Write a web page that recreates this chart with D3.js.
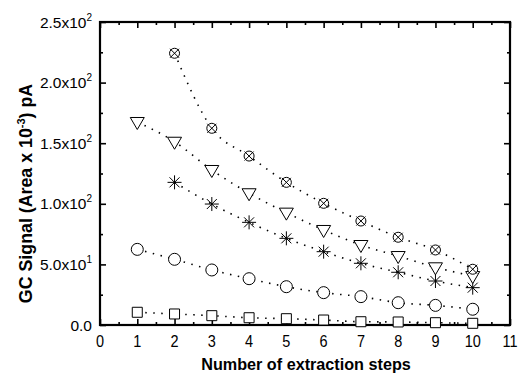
<!DOCTYPE html>
<html>
<head>
<meta charset="utf-8">
<script src="https://cdn.jsdelivr.net/npm/d3@7"></script>
<style>
body{margin:0;background:#fff;}
text{font-family:"Liberation Sans",Arial,sans-serif;}
</style>
</head>
<body>
<div id="chart"></div>
<script>
// values
const stepsAll = [1,2,3,4,5,6,7,8,9,10];
const stepsFrom2 = [2,3,4,5,6,7,8,9,10];
const squareVals = [10.5,9.1,7.7,6.0,5.2,4.1,2.7,2.5,1.9,1.4];
const circleVals = [62.4,54.2,45.4,38.2,31.6,26.7,23.4,18.4,16.2,13.0];
const starVals = [117.7,99.8,84.7,71.5,60.5,50.9,43.5,36.3,30.8];
const triangleVals = [167.5,151.2,127.9,108.7,92.7,78.4,66.0,56.9,47.6,40.4];
const crossedVals = [224.2,162.3,139.4,117.7,100.4,85.8,72.4,61.9,46.0];
const xTicks = [0,1,2,3,4,5,6,7,8,9,10,11];
const yTicks = [0,50,100,150,200,250];
const yTickBase = ['0.0','5.0x10','1.0x10','1.5x10','2.0x10','2.5x10'];
const yTickExp = ['','1','2','2','2','2'];

const series = [
	{shape:'square', x:stepsAll, y:squareVals},
	{shape:'circle', x:stepsAll, y:circleVals},
	{shape:'star', x:stepsFrom2, y:starVals},
	{shape:'triangle', x:stepsAll, y:triangleVals},
	{shape:'crossed', x:stepsFrom2, y:crossedVals}
];

const width = 520, height = 377;
const margin = {t:22, r:10, b:52, l:100};
const w = width - margin.l - margin.r;
const h = height - margin.t - margin.b;

const scaleX = d3.scaleLinear().domain([0,11]).range([0,w]);
const scaleY = d3.scaleLinear().domain([0,250]).range([h,0]);

const svg = d3.select('#chart').append('svg')
	.attr('width', width)
	.attr('height', height);

const plot = svg.append('g')
	.attr('transform', `translate(${margin.l},${margin.t})`);

// minor ticks at the half steps
const xMinor = d3.range(0.5, 11, 1);
const yMinor = d3.range(25, 250, 50);

function styleAxis(g){
	g.select('.domain').remove();
	g.selectAll('line').attr('stroke','#000').attr('stroke-width',1.6);
}

// bottom
plot.append('g').attr('transform',`translate(0,${h})`)
	.call(d3.axisTop(scaleX).tickValues(xMinor).tickSize(3).tickFormat(''))
	.call(styleAxis);
plot.append('g').attr('transform',`translate(0,${h})`)
	.call(d3.axisTop(scaleX).tickValues(xTicks).tickSize(6).tickFormat(''))
	.call(styleAxis);
plot.append('g').attr('class','x-labels')
	.selectAll('text').data(xTicks).enter().append('text')
	.attr('transform', d => `translate(${scaleX(d)},${h + 22}) scale(1,1.12)`)
	.attr('text-anchor','middle')
	.attr('font-size', 14.5)
	.text(d => d);

// top
plot.append('g')
	.call(d3.axisBottom(scaleX).tickValues(xMinor).tickSize(3).tickFormat(''))
	.call(styleAxis);
plot.append('g')
	.call(d3.axisBottom(scaleX).tickValues(xTicks).tickSize(6).tickFormat(''))
	.call(styleAxis);

// left
plot.append('g')
	.call(d3.axisRight(scaleY).tickValues(yMinor).tickSize(3).tickFormat(''))
	.call(styleAxis);
plot.append('g')
	.call(d3.axisRight(scaleY).tickValues(yTicks).tickSize(6).tickFormat(''))
	.call(styleAxis);

// right
plot.append('g').attr('transform',`translate(${w},0)`)
	.call(d3.axisLeft(scaleY).tickValues(yMinor).tickSize(3).tickFormat(''))
	.call(styleAxis);
plot.append('g').attr('transform',`translate(${w},0)`)
	.call(d3.axisLeft(scaleY).tickValues(yTicks).tickSize(6).tickFormat(''))
	.call(styleAxis);

// y tick labels with superscript
const yLab = plot.append('g').selectAll('text').data(yTicks).enter().append('text')
	.attr('x', -8)
	.attr('y', d => scaleY(d) + 5.5)
	.attr('text-anchor','end')
	.attr('font-size', 15.5);
yLab.each(function(d,i){
	const t = d3.select(this);
	t.append('tspan').text(yTickBase[i]);
	if(yTickExp[i]){
		t.append('tspan').attr('dy',-7).attr('font-size',10).text(yTickExp[i]);
	}
});

// frame
plot.append('rect')
	.attr('width', w).attr('height', h)
	.attr('fill','none')
	.attr('stroke','#000')
	.attr('stroke-width',2.2);

// axis titles
svg.append('text')
	.attr('x', margin.l + w/2 + 1)
	.attr('y', 370)
	.attr('text-anchor','middle')
	.attr('font-size', 16.2)
	.attr('font-weight','bold')
	.text('Number of extraction steps');

const yTitle = svg.append('text')
	.attr('transform', `translate(32,${margin.t + h/2 + 20}) rotate(-90)`)
	.attr('text-anchor','middle')
	.attr('font-size', 17.8)
	.attr('font-weight','bold');
yTitle.append('tspan').text('GC Signal (Area x 10');
yTitle.append('tspan').attr('dy',-7).attr('font-size',11).text('-3');
yTitle.append('tspan').attr('dy',7).text(') pA');

// dotted curves
const lineGen = d3.line()
	.x(d => scaleX(d[0]))
	.y(d => scaleY(d[1]))
	.curve(d3.curveMonotoneX);

plot.selectAll('.curve').data(series).enter().append('path')
	.attr('class','curve')
	.attr('d', s => lineGen(s.x.map((x,i) => [x, s.y[i]])))
	.attr('fill','none')
	.attr('stroke','#000')
	.attr('stroke-width',1.6)
	.attr('stroke-dasharray','1.5 6.5');

// markers
function markerPath(shape){
	if(shape === 'square') return 'M-5,-5H5V5H-5Z';
	if(shape === 'circle') return 'M6,0A6,6 0 1,1 -6,0A6,6 0 1,1 6,0Z';
	if(shape === 'triangle') return 'M-7,-4.5H7L0,7.5Z';
	if(shape === 'crossed') return 'M5,0A5,5 0 1,1 -5,0A5,5 0 1,1 5,0Z M-4.5,-4.5L4.5,4.5 M-4.5,4.5L4.5,-4.5';
	if(shape === 'star') return 'M0,-7V7 M-7,0H7 M-5,-5L5,5 M-5,5L5,-5';
}

series.forEach(s => {
	plot.append('g').attr('class','marks-' + s.shape)
		.selectAll('path').data(s.x.map((x,i) => [x, s.y[i]])).enter().append('path')
		.attr('transform', d => `translate(${scaleX(d[0])},${scaleY(d[1])})`)
		.attr('d', markerPath(s.shape))
		.attr('fill', s.shape === 'star' ? 'none' : '#fff')
		.attr('stroke','#000')
		.attr('stroke-width',1);
});
</script>
</body>
</html>
